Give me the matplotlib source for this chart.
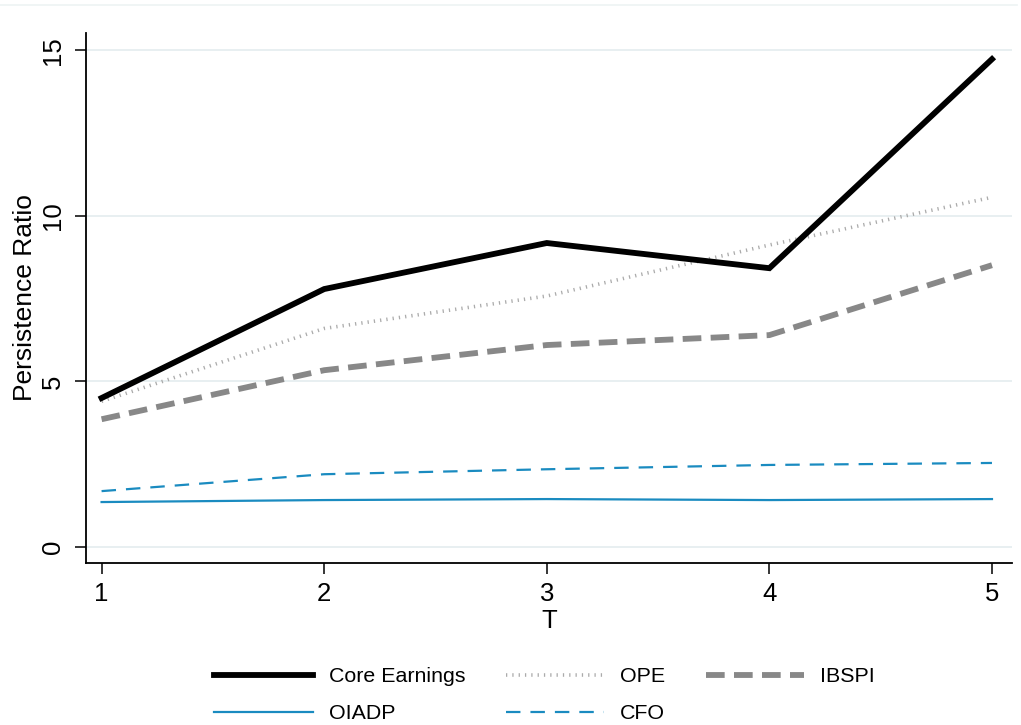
import matplotlib
matplotlib.use("Agg")
import matplotlib.pyplot as plt
from matplotlib.lines import Line2D

T = [1, 2, 3, 4, 5]
core_earnings = [4.50, 7.79, 9.18, 8.42, 14.73]
ope = [4.40, 6.60, 7.58, 9.12, 10.56]
ibspi = [3.86, 5.34, 6.10, 6.40, 8.51]
oiadp = [1.36, 1.42, 1.45, 1.42, 1.45]
cfo = [1.69, 2.20, 2.35, 2.48, 2.54]
yticks = [0, 5, 10, 15]

FONT = ["Liberation Sans", "DejaVu Sans"]
FS = 18.5
blue = "#1a8bc0"

fig = plt.figure(figsize=(10.21, 7.25), dpi=100)
W, H = 1021, 725
left, right, top, bottom = 86, 1012, 33, 563
ax = fig.add_axes([left / W, 1 - bottom / H, (right - left) / W, (bottom - top) / H])

ax.plot(T, core_earnings, color="black", lw=4.2, solid_joinstyle="miter", label="Core Earnings", zorder=5)
ax.plot(T, ope, color="#ababab", lw=2.6, dashes=(0.35, 1.4), label="OPE", zorder=4)
ax.plot(T, ibspi, color="#888888", lw=4.2, dashes=(3.2, 1.6), label="IBSPI", zorder=4)
ax.plot(T, oiadp, color=blue, lw=1.6, label="OIADP", zorder=3)
ax.plot(T, cfo, color=blue, lw=1.6, dashes=(6.5, 4.5), label="CFO", zorder=3)

ax.set_xlim(0.93, 5.09)
ax.set_ylim(-0.48, 15.52)
ax.set_yticks(yticks)
ax.set_xticks(T)
ax.grid(axis="y", color="#e8eff1", lw=1.4)
ax.set_axisbelow(True)
for s in ["top", "right"]:
    ax.spines[s].set_visible(False)
for s in ["left", "bottom"]:
    ax.spines[s].set_linewidth(1.3)
ax.tick_params(axis="both", length=8, width=1.1, color="black")
ax.set_xticklabels([str(t) for t in T], fontsize=FS, family=FONT)
ax.set_yticklabels([str(v) for v in yticks], fontsize=FS, family=FONT, rotation=90, va="center")
ax.tick_params(axis="x", pad=6)
ax.tick_params(axis="y", pad=7)
ax.set_xlabel("T", fontsize=FS, family=FONT, labelpad=2)
ax.set_ylabel("Persistence Ratio", fontsize=19, family=FONT, labelpad=3)

# faint outer border line at top of graph region
fig.add_artist(Line2D([0, 1017 / W], [1 - 5 / H, 1 - 5 / H], color="#edf3f4", lw=1.2))

handles, labels = ax.get_legend_handles_labels()
order = [0, 3, 1, 4, 2]
leg = fig.legend([handles[i] for i in order], [labels[i] for i in order],
                 ncol=3, loc="upper left", bbox_to_anchor=(195 / W, 1 - 648 / H),
                 frameon=False, handlelength=4.6, handletextpad=0.75,
                 columnspacing=1.9, labelspacing=0.85,
                 prop={"family": FONT, "size": 15.4})

fig.savefig("out.png", dpi=100, facecolor="white")
